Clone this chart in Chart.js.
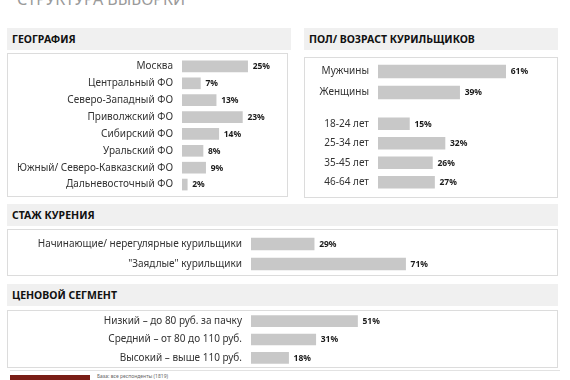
<!DOCTYPE html>
<html lang="ru">
<head>
<meta charset="utf-8">
<script src="https://cdn.jsdelivr.net/npm/chart.js@4/dist/chart.umd.min.js"></script>
<style>
  body { margin: 0; background: #fff; width: 570px; height: 380px; overflow: hidden; position: relative; font-family: 'Noto Sans', sans-serif; }
  .titulo { position: absolute; left: 17px; top: -12px; font-size: 16px; color: #9a9a9a; letter-spacing: 0px; white-space: nowrap; }
  .cab { position: absolute; background: #f0f0f0; font-weight: bold; font-size: 10.5px; color: #111; line-height: 22px; padding-left: 5px; box-sizing: border-box; }
  .caixa { position: absolute; border: 1px solid #dcdcdc; background: #fff; box-sizing: border-box; }
  canvas { position: absolute; }
  .linha { position: absolute; left: 10px; top: 370px; width: 550px; height: 1px; background: #e2e2e2; }
  .marca { position: absolute; left: 10px; top: 375px; width: 80px; height: 10px; background: #7a1d16; }
  .base { position: absolute; left: 97px; top: 373px; font-size: 5px; color: #666; }
</style>
</head>
<body>
<div class="titulo">СТРУКТУРА ВЫБОРКИ</div>

<div class="cab" style="left:7px;top:28px;width:284px;height:22px;">ГЕОГРАФИЯ</div>
<div class="caixa" style="left:7px;top:53px;width:281px;height:144px;"></div>
<canvas id="graficoGeo" width="280" height="135" style="left:7px;top:58px;"></canvas>

<div class="cab" style="left:304px;top:28px;width:254px;height:22px;">ПОЛ/ ВОЗРАСТ КУРИЛЬЩИКОВ</div>
<div class="caixa" style="left:304px;top:57px;width:254px;height:141px;"></div>
<canvas id="graficoPol" width="254" height="42" style="left:304px;top:61px;"></canvas>
<canvas id="graficoIdade" width="254" height="78" style="left:304px;top:114px;"></canvas>

<div class="cab" style="left:7px;top:204px;width:551px;height:22px;">СТАЖ КУРЕНИЯ</div>
<div class="caixa" style="left:7px;top:229px;width:551px;height:47px;"></div>
<canvas id="graficoStazh" width="551" height="40" style="left:7px;top:234px;"></canvas>

<div class="cab" style="left:7px;top:284px;width:551px;height:22px;">ЦЕНОВОЙ СЕГМЕНТ</div>
<div class="caixa" style="left:7px;top:310px;width:551px;height:58px;"></div>
<canvas id="graficoPreco" width="551" height="55" style="left:7px;top:312px;"></canvas>

<div class="linha"></div>
<div class="marca"></div>
<div class="base">База: все респонденты (1819)</div>

<script>
// dados
const regioes = ['Москва', 'Центральный ФО', 'Северо-Западный ФО', 'Приволжский ФО', 'Сибирский ФО', 'Уральский ФО', 'Южный/ Северо-Кавказский ФО', 'Дальневосточный ФО'];
const valoresRegioes = [25, 7, 13, 23, 14, 8, 9, 2];

const sexos = ['Мужчины', 'Женщины'];
const valoresSexos = [61, 39];

const idades = ['18-24 лет', '25-34 лет', '35-45 лет', '46-64 лет'];
const valoresIdades = [15, 32, 26, 27];

const stazh = ['Начинающие/ нерегулярные курильщики', '"Заядлые" курильщики'];
const valoresStazh = [29, 71];

const precos = ['Низкий – до 80 руб. за пачку', 'Средний – от 80 до 110 руб.', 'Высокий – выше 110 руб.'];
const valoresPrecos = [51, 31, 18];

Chart.defaults.font.family = "'Noto Sans', sans-serif";

// rótulo de valor no fim de cada barra
const rotuloValor = {
    id: 'rotuloValor',
    afterDatasetsDraw(chart) {
        const ctx = chart.ctx;
        ctx.save();
        ctx.font = "bold 8.5px 'Noto Sans', sans-serif";
        ctx.fillStyle = '#1a1a1a';
        ctx.textBaseline = 'middle';
        ctx.textAlign = 'left';
        const meta = chart.getDatasetMeta(0);
        meta.data.forEach((bar, i) => {
            ctx.fillText(chart.data.datasets[0].data[i] + '%', bar.x + 5, bar.y + 0.5);
        });
        ctx.restore();
    }
};

let graficos = {};

function criarGrafico(id, rotulos, valores, larguraEixo, maximo, espessura) {
    if (graficos[id]) {
        graficos[id].destroy();
    }
    graficos[id] = new Chart(document.getElementById(id), {
        type: 'bar',
        data: {
            labels: rotulos,
            datasets: [{
                data: valores,
                backgroundColor: '#c8c8c8',
                barThickness: espessura
            }]
        },
        options: {
            indexAxis: 'y',
            responsive: false,
            animation: false,
            layout: { padding: 0 },
            plugins: { legend: { display: false }, tooltip: { enabled: false } },
            scales: {
                x: { display: false, min: 0, max: maximo },
                y: {
                    // tickLength faz o espaço entre rótulo e barra (padding mexe na altura)
                    grid: { display: false, drawTicks: true, tickLength: 9 },
                    border: { display: false },
                    ticks: { color: '#333', font: { size: 10 }, padding: 0 },
                    afterFit(escala) {
                        escala.width = larguraEixo;
                        escala.paddingTop = 0;
                        escala.paddingBottom = 0;
                    }
                }
            }
        },
        plugins: [rotuloValor]
    });
}

criarGrafico('graficoGeo', regioes, valoresRegioes, 175, 40, 11);
criarGrafico('graficoPol', sexos, valoresSexos, 74, 86, 13);
criarGrafico('graficoIdade', idades, valoresIdades, 74, 86, 12);
criarGrafico('graficoStazh', stazh, valoresStazh, 244, 141, 12);
criarGrafico('graficoPreco', precos, valoresPrecos, 244, 147, 11);
</script>
</body>
</html>
